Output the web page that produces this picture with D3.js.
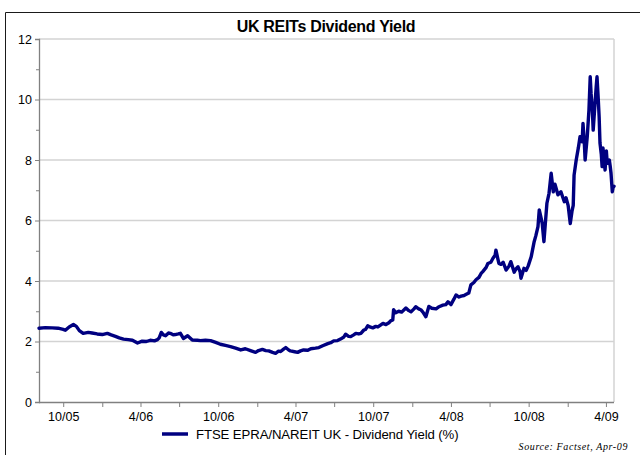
<!DOCTYPE html>
<html>
<head>
<meta charset="utf-8">
<script src="https://cdn.jsdelivr.net/npm/d3@7"></script>
<style>
  html, body { margin: 0; padding: 0; background: #fff; }
  svg { display: block; }
</style>
</head>
<body>
<svg id="chart" width="640" height="455"></svg>
<script>
// FTSE EPRA/NAREIT UK dividend yield (%), Aug 2005 - Apr 2009
const dates = [
  "2005-08-05","2005-08-20","2005-09-05","2005-09-19","2005-10-01","2005-10-06","2005-10-15","2005-10-25",
  "2005-11-01","2005-11-08","2005-11-17","2005-11-29","2005-12-08","2005-12-20","2006-01-01","2006-01-13",
  "2006-01-22","2006-02-01","2006-02-10","2006-02-20","2006-03-03","2006-03-13","2006-03-25","2006-04-05",
  "2006-04-15","2006-04-24","2006-05-04","2006-05-11","2006-05-15","2006-05-20","2006-05-25","2006-05-30",
  "2006-06-06","2006-06-10","2006-06-17","2006-06-22","2006-06-29","2006-07-04","2006-07-11","2006-07-21",
  "2006-07-28","2006-08-01","2006-08-13","2006-08-20","2006-09-01","2006-09-13","2006-09-25","2006-10-06",
  "2006-10-18","2006-10-30","2006-11-11","2006-11-23","2006-12-04","2006-12-16","2006-12-28","2007-01-04",
  "2007-01-13","2007-01-21","2007-01-28","2007-02-06","2007-02-13","2007-02-20","2007-02-25","2007-03-04",
  "2007-03-09","2007-03-16","2007-03-20","2007-03-30","2007-04-06","2007-04-13","2007-04-20","2007-04-30",
  "2007-05-07","2007-05-18","2007-05-26","2007-06-04","2007-06-16","2007-06-23","2007-06-30","2007-07-09",
  "2007-07-16","2007-07-24","2007-07-28","2007-08-04","2007-08-09","2007-08-16","2007-08-21","2007-08-28",
  "2007-09-02","2007-09-09","2007-09-13","2007-09-18","2007-09-23","2007-09-30","2007-10-07","2007-10-12",
  "2007-10-19","2007-10-24","2007-10-31","2007-11-07","2007-11-11","2007-11-16","2007-11-18","2007-11-23",
  "2007-11-30","2007-12-07","2007-12-17","2007-12-24","2007-12-29","2008-01-05","2008-01-09","2008-01-16",
  "2008-01-21","2008-01-26","2008-02-02","2008-02-09","2008-02-16","2008-02-26","2008-03-04","2008-03-13",
  "2008-03-20","2008-03-25","2008-04-01","2008-04-08","2008-04-13","2008-04-20","2008-04-25","2008-05-02",
  "2008-05-06","2008-05-13","2008-05-18","2008-05-25","2008-05-30","2008-06-06","2008-06-11","2008-06-15",
  "2008-06-23","2008-06-27","2008-07-04","2008-07-09","2008-07-14","2008-07-16","2008-07-21","2008-07-23",
  "2008-07-28","2008-08-02","2008-08-09","2008-08-16","2008-08-20","2008-08-28","2008-09-01","2008-09-06",
  "2008-09-11","2008-09-13","2008-09-20","2008-09-25","2008-09-30","2008-10-07","2008-10-14","2008-10-18",
  "2008-10-23","2008-10-26","2008-10-30","2008-11-02","2008-11-06","2008-11-13","2008-11-18","2008-11-23",
  "2008-11-28","2008-12-02","2008-12-09","2008-12-16","2008-12-24","2008-12-28","2009-01-02","2009-01-07",
  "2009-01-11","2009-01-14","2009-01-16","2009-01-21","2009-01-26","2009-01-30","2009-02-04","2009-02-06",
  "2009-02-09","2009-02-11","2009-02-16","2009-02-20","2009-02-23","2009-02-25","2009-02-28","2009-03-02",
  "2009-03-07","2009-03-09","2009-03-11","2009-03-14","2009-03-16","2009-03-18","2009-03-21","2009-03-23",
  "2009-03-25","2009-03-28","2009-03-30","2009-04-02","2009-04-04","2009-04-06","2009-04-09","2009-04-11",
  "2009-04-13","2009-04-16","2009-04-18","2009-04-20"
];
const yields = [
  2.44,2.46,2.45,2.44,2.40,2.37,2.48,2.56,
  2.50,2.36,2.27,2.30,2.28,2.25,2.23,2.27,
  2.22,2.17,2.12,2.08,2.06,2.04,1.95,2.01,
  2.00,2.04,2.02,2.06,2.12,2.30,2.22,2.19,
  2.28,2.27,2.22,2.23,2.25,2.27,2.10,2.19,
  2.10,2.05,2.04,2.03,2.04,2.03,1.97,1.91,
  1.87,1.83,1.78,1.72,1.76,1.70,1.64,1.70,
  1.74,1.70,1.69,1.64,1.61,1.68,1.67,1.75,
  1.80,1.72,1.69,1.66,1.64,1.69,1.72,1.71,
  1.76,1.78,1.80,1.86,1.93,1.96,2.02,2.03,
  2.08,2.15,2.24,2.17,2.16,2.22,2.27,2.25,
  2.27,2.38,2.40,2.52,2.48,2.45,2.50,2.48,
  2.55,2.60,2.56,2.62,2.68,2.71,3.05,2.95,
  3.00,2.97,3.11,3.02,2.98,3.08,3.15,3.08,
  3.05,2.97,2.82,3.16,3.10,3.08,3.15,3.20,
  3.22,3.31,3.22,3.40,3.54,3.47,3.50,3.52,
  3.55,3.60,3.87,3.95,4.04,4.12,4.25,4.31,
  4.45,4.58,4.62,4.75,4.85,5.02,4.70,4.58,
  4.55,4.62,4.36,4.50,4.64,4.29,4.40,4.47,
  4.30,4.09,4.42,4.35,4.50,4.80,5.30,5.50,
  5.80,6.35,6.10,5.90,5.30,6.57,6.90,7.56,
  6.95,7.20,6.85,6.95,6.62,6.75,6.50,5.90,
  6.30,6.50,7.50,8.00,8.40,8.77,8.60,9.21,
  8.60,8.00,8.77,9.65,10.75,10.20,9.65,8.99,
  10.00,10.40,10.75,10.00,9.43,8.56,8.20,7.78,
  8.40,8.00,7.67,8.30,7.90,7.89,8.00,7.80,
  7.56,6.95,7.10,7.13
];
const yTicks = [0, 2, 4, 6, 8, 10, 12];
const xTickLabels = ["10/05","4/06","10/06","4/07","10/07","4/08","10/08","4/09"];
const seriesName = "FTSE EPRA/NAREIT UK - Dividend Yield (%)";
const chartTitle = "UK REITs Dividend Yield";
const sourceNote = "Source: Factset, Apr-09";

const SANS = "'Liberation Sans', Arial, sans-serif";
const SERIF = "'Liberation Serif', 'Times New Roman', serif";

const parse = d3.timeParse("%Y-%m-%d");
const data = dates.map((d, i) => ({ date: parse(d), value: yields[i] }));

const svg = d3.select("#chart");
const plot = { left: 39, right: 614, top: 39, bottom: 402 };

// outer frame (left and top edges)
svg.append("path")
  .attr("d", "M5.5,455 L5.5,12.5 L640,12.5")
  .attr("fill", "none")
  .attr("stroke", "#1a1a1a")
  .attr("stroke-width", 1);

svg.append("text")
  .attr("x", 326).attr("y", 32)
  .attr("text-anchor", "middle")
  .style("font-family", SANS)
  .attr("font-size", 16).attr("font-weight", "bold")
  .attr("letter-spacing", -0.3)
  .attr("fill", "#000")
  .text(chartTitle);

const x = d3.scaleTime()
  .domain([parse("2005-08-05"), parse("2009-04-20")])
  .range([plot.left, plot.right]);
const y = d3.scaleLinear().domain([0, 12]).range([plot.bottom, plot.top]);

// horizontal gridlines
svg.append("g")
  .selectAll("line")
  .data(yTicks.filter(t => t > 0))
  .join("line")
  .attr("x1", plot.left).attr("x2", plot.right)
  .attr("y1", d => y(d)).attr("y2", d => y(d))
  .attr("stroke", "#d3d3d3").attr("stroke-width", 1.3);

// right border of plot area
svg.append("line")
  .attr("x1", plot.right).attr("x2", plot.right)
  .attr("y1", plot.top).attr("y2", plot.bottom)
  .attr("stroke", "#d3d3d3").attr("stroke-width", 1.5);

// y axis: labelled majors every 2, minor ticks every 1
const yAxis = d3.axisLeft(y).tickValues(yTicks).tickSize(4).tickPadding(3).tickFormat(d3.format("d"));
const gy = svg.append("g").attr("transform", `translate(${plot.left},0)`).call(yAxis);
gy.select(".domain").attr("stroke", "#808080").attr("stroke-width", 1.3);
gy.selectAll(".tick line").attr("stroke", "#808080");
gy.selectAll(".tick text").attr("font-size", 12.5).attr("fill", "#000").style("font-family", SANS);
const yMinor = d3.axisLeft(y).tickValues(d3.range(1, 12, 2)).tickSize(3).tickFormat("");
const gym = svg.append("g").attr("transform", `translate(${plot.left},0)`).call(yMinor);
gym.select(".domain").remove();
gym.selectAll(".tick line").attr("stroke", "#808080");

// x axis: ticks every 3 months, labels every 6 months
const quarterTicks = d3.timeMonth.every(3).range(parse("2005-10-01"), parse("2009-04-02"));
const labelled = new Map();
xTickLabels.forEach(s => {
  const [m, yy] = s.split("/").map(Number);
  labelled.set(+new Date(2000 + yy, m - 1, 1), s);
});
const xAxis = d3.axisBottom(x).tickValues(quarterTicks).tickSize(5).tickPadding(5)
  .tickFormat(d => labelled.get(+d) || "");
const gx = svg.append("g").attr("transform", `translate(0,${plot.bottom})`).call(xAxis);
gx.select(".domain").attr("stroke", "#808080").attr("stroke-width", 1.3)
  .attr("d", `M${plot.left},0.5H${plot.right}`);
gx.selectAll(".tick line").attr("stroke", "#808080");
gx.selectAll(".tick text").attr("font-size", 12.5).attr("fill", "#000").style("font-family", SANS);

// series line
const line = d3.line().x(d => x(d.date)).y(d => y(d.value));
svg.append("path")
  .datum(data)
  .attr("d", line)
  .attr("fill", "none")
  .attr("stroke", "#000080")
  .attr("stroke-width", 3.4)
  .attr("stroke-linejoin", "round")
  .attr("stroke-linecap", "round");

// legend
const lg = svg.append("g").attr("transform", "translate(162,434)");
lg.append("line").attr("x1", 0).attr("x2", 26).attr("y1", 0).attr("y2", 0)
  .attr("stroke", "#000080").attr("stroke-width", 3.5);
lg.append("text").attr("x", 34).attr("y", 4.5)
  .style("font-family", SANS)
  .attr("font-size", 13.2).attr("fill", "#000")
  .attr("letter-spacing", -0.1)
  .text(seriesName);

// source note
svg.append("text")
  .attr("x", 628).attr("y", 450)
  .attr("text-anchor", "end")
  .style("font-family", SERIF)
  .attr("font-style", "italic")
  .attr("font-size", 10)
  .attr("letter-spacing", 0.6)
  .attr("fill", "#000")
  .text(sourceNote);
</script>
</body>
</html>
